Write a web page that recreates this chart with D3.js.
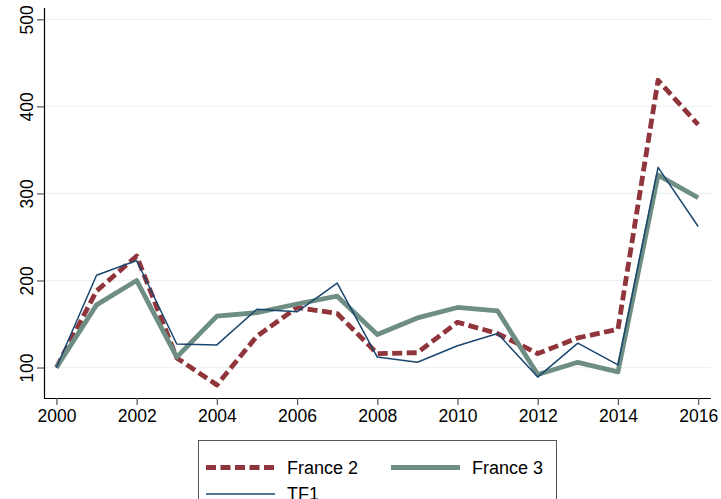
<!DOCTYPE html>
<html>
<head>
<meta charset="utf-8">
<script src="https://cdn.jsdelivr.net/npm/d3@7"></script>
<style>
  body { margin: 0; background: #fff; }
  svg { display: block; font-family: "Liberation Sans", Arial, Helvetica, sans-serif; }
</style>
</head>
<body>
<svg id="chart" width="721" height="499"></svg>
<script>
// data
var years = [2000,2001,2002,2003,2004,2005,2006,2007,2008,2009,2010,2011,2012,2013,2014,2015,2016];
var france2 = [100,188,228,111,80,136,169,162,116,117,152,139,116,134,144,430,379];
var france3 = [100,172,200,112,159,163,173,182,138,157,169,165,92,106,95,321,295];
var tf1 = [100,206,223,127,126,167,164,197,112,106,125,139,89,128,103,330,262];
var yTicks = [100,200,300,400,500];
var xTicks = [2000,2002,2004,2006,2008,2010,2012,2014,2016];

var series = [
	{name:'France 2', values:france2, color:'#90353b', width:4.8, dash:'10,4.5'},
	{name:'France 3', values:france3, color:'#6e8e84', width:4.8, dash:null},
	{name:'TF1', values:tf1, color:'#1a476f', width:1.5, dash:null}
];

var svg = d3.select('#chart');

var x = d3.scaleLinear().domain([1999.69, 2016.32]).range([44, 711]);
var y = d3.scaleLinear().domain([65, 513]).range([398, 8]);

//grid
svg.append('g').selectAll('line').data(yTicks).enter()
	.append('line')
	.attr('x1',44).attr('x2',711)
	.attr('y1',function(d){ return y(d)}).attr('y2',function(d){ return y(d)})
	.attr('stroke','#eaf2f3').attr('stroke-width',1.3);

//axes
var xAxis = svg.append('g')
	.attr('transform','translate(0,398)')
	.call(d3.axisBottom(x).tickValues(xTicks).tickFormat(d3.format('d')).tickSize(7).tickSizeOuter(0).tickPadding(5));
var yAxis = svg.append('g')
	.attr('transform','translate(44,0)')
	.call(d3.axisLeft(y).tickValues(yTicks).tickSize(7).tickSizeOuter(0));

[xAxis, yAxis].forEach(function(a){
	a.select('.domain').attr('stroke','#000').attr('stroke-width',1.2);
	a.selectAll('.tick line').attr('stroke','#555').attr('stroke-width',1.2);
	a.selectAll('text').attr('fill','#000').style('font-size','17.5px');
});
xAxis.select('.domain').attr('d','M44,0.5H711');
yAxis.select('.domain').attr('d','M0.5,8V398');

yAxis.selectAll('.tick text')
	.attr('x',0).attr('dy',null)
	.attr('transform','translate(-11,0) rotate(-90)')
	.style('text-anchor','middle');

//lines
var line = d3.line()
	.x(function(d,i){ return x(years[i])})
	.y(function(d){ return y(d)});

svg.append('g').selectAll('path').data(series).enter()
	.append('path')
	.attr('d',function(d){ return line(d.values)})
	.attr('fill','none')
	.attr('stroke',function(d){ return d.color})
	.attr('stroke-width',function(d){ return d.width})
	.attr('stroke-dasharray',function(d){ return d.dash})
	.attr('stroke-linejoin','round');

//legend
var legend = svg.append('g');
legend.append('rect')
	.attr('x',198.5).attr('y',440.5)
	.attr('width',358).attr('height',80)
	.attr('fill','#fff').attr('stroke','#555').attr('stroke-width',1);

var legPos = [[206,467.5],[391,467.5],[206,494]];
var items = legend.selectAll('g.item').data(series).enter()
	.append('g').attr('class','item')
	.attr('transform',function(d,i){ return 'translate('+legPos[i][0]+','+legPos[i][1]+')'});
items.append('line')
	.attr('x1',0).attr('x2',69).attr('y1',0).attr('y2',0)
	.attr('stroke',function(d){ return d.color})
	.attr('stroke-width',function(d){ return d.width})
	.attr('stroke-dasharray',function(d){ return d.dash});
items.append('text')
	.attr('x',81).attr('y',0).attr('dy','0.36em')
	.style('font-size','18px')
	.text(function(d){ return d.name});
</script>
</body>
</html>
